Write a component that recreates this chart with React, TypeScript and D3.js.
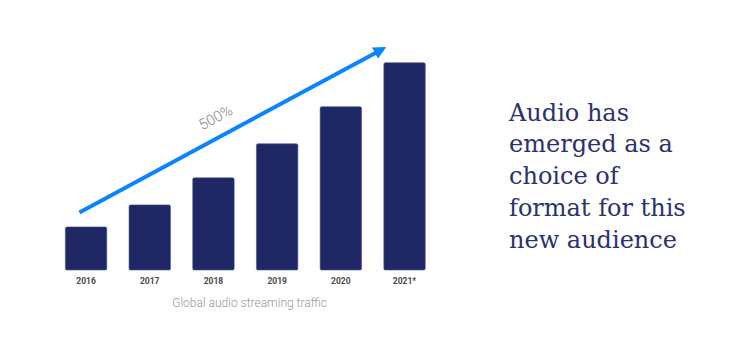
import * as d3 from "d3";

const years = ["2016", "2017", "2018", "2019", "2020", "2021*"];
const traffic = [43, 65, 92, 126, 163, 207];
const growthLabel = "500%";
const caption = "Global audio streaming traffic";
const headline = ["Audio has", "emerged as a", "choice of", "format for this", "new audience"];

export default function App() {
  const width = 735;
  const height = 351;
  const baseY = 270;

  const x = d3.scaleBand<string>().domain(years).range([54.2, 436.4]).paddingInner(0.35).paddingOuter(0.175);
  const y = d3.scaleLinear().domain([0, d3.max(traffic)!]).range([baseY, 62.7]);

  // trend arrow runs from just above the first bar to past the last one
  const x0 = x(years[0])! + x.bandwidth() * 0.34;
  const y0 = y(traffic[0]) - 14.5;
  const x1 = x(years[years.length - 1])! + 3;
  const y1 = 46.7;
  const angle = (Math.atan2(y1 - y0, x1 - x0) * 180) / Math.PI;
  const labelX = 218;
  const labelY = 122;

  return (
    <svg width={width} height={height} style={{ position: "absolute", left: 0, top: 0, background: "#fff" }}>
      <defs>
        <marker id="head" viewBox="0 0 10 10" refX="7" refY="5" markerWidth="3.2" markerHeight="3.2" orient="auto">
          <path d="M0,0 L10,5 L0,10 Z" fill="#0a84ff" />
        </marker>
      </defs>
      {years.map((yr, i) => (
        <g key={yr}>
          <rect
            x={x(yr)}
            y={y(traffic[i])}
            width={x.bandwidth()}
            height={baseY - y(traffic[i])}
            rx={1.5}
            fill="#1f2765"
            stroke="#4a5190"
            strokeWidth={0.6}
          />
          <text
            x={x(yr)! + x.bandwidth() / 2}
            y={283.5}
            textAnchor="middle"
            fontFamily="Roboto, sans-serif"
            fontWeight="bold"
            fontSize={8.5}
            fill="#484848"
          >
            {yr}
          </text>
        </g>
      ))}
      <line x1={x0} y1={y0} x2={x1 - 4} y2={y1 + 2.2} stroke="#0a84ff" strokeWidth={4} markerEnd="url(#head)" />
      <text
        x={labelX}
        y={labelY}
        transform={`rotate(${angle} ${labelX} ${labelY})`}
        textAnchor="middle"
        fontFamily="Roboto, sans-serif"
        fontWeight={300}
        fontSize={15}
        fill="#888"
      >
        {growthLabel}
      </text>
      <text x={249.5} y={306.5} textAnchor="middle" fontFamily="Roboto, sans-serif" fontWeight={300} fontSize={12} fill="#999">
        {caption}
      </text>
      {headline.map((line, i) => (
        <text key={line} x={509} y={120.7 + i * 31.7} fontFamily="'DejaVu Serif', serif" fontWeight={300} fontSize={24} fill="#2b3172">
          {line}
        </text>
      ))}
    </svg>
  );
}
